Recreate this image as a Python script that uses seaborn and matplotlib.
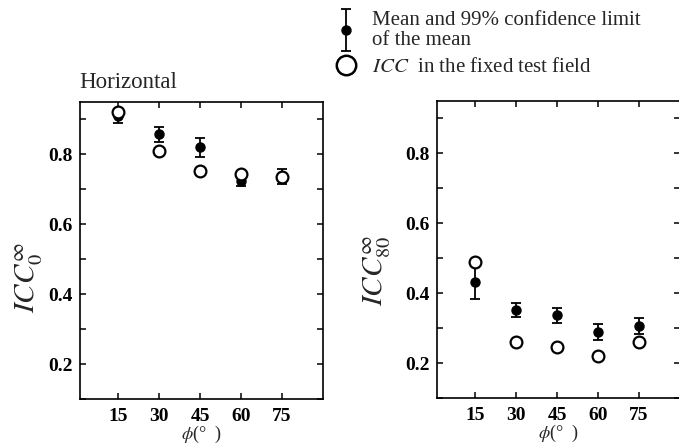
import numpy as np
import pandas as pd
import matplotlib
matplotlib.use('Agg')
import matplotlib.pyplot as plt
import seaborn as sns
from matplotlib.lines import Line2D
from matplotlib.container import ErrorbarContainer
from matplotlib.legend_handler import HandlerErrorbar

# ---- data ----
phi = [15, 30, 45, 60, 75]
h_mean = [0.910, 0.857, 0.820, 0.725, 0.737]
h_err = [0.019, 0.021, 0.027, 0.014, 0.022]
h_icc = [0.921, 0.809, 0.752, 0.743, 0.736]
v_mean = [0.433, 0.351, 0.337, 0.290, 0.305]
v_err = [0.049, 0.020, 0.021, 0.023, 0.023]
v_icc = [0.490, 0.261, 0.245, 0.219, 0.261]
xticks = [15, 30, 45, 60, 75]
ymajor = [0.2, 0.4, 0.6, 0.8]
yminor = [0.1, 0.3, 0.5, 0.7, 0.9]

sns.set_style('ticks')
plt.rcParams.update({
    'font.family': ['Liberation Serif', 'DejaVu Serif'],
    'mathtext.fontset': 'stix',
    'xtick.direction': 'in', 'ytick.direction': 'in',
    'xtick.top': True, 'ytick.right': True,
    'xtick.minor.top': True, 'ytick.minor.right': True,
    'axes.edgecolor': 'black', 'axes.linewidth': 1.2,
    'xtick.color': 'black', 'ytick.color': 'black',
    'axes.facecolor': 'white', 'figure.facecolor': 'white',
})

W, H = 679, 445
fig = plt.figure(figsize=(W / 100, H / 100), dpi=100)
axL = fig.add_axes([80 / W, 46 / H, 243 / W, 297 / H])
axR = fig.add_axes([437 / W, 47 / H, 243 / W, 297 / H])


def panel(ax, mean, err, icc, ylabel, ly):
    df = pd.DataFrame({'phi': phi, 'mean': mean, 'icc': icc})
    eb = ax.errorbar(df['phi'], df['mean'], yerr=err, fmt='o', color='black',
                     ms=6.5, elinewidth=1.3, capsize=3.8, capthick=1.3, zorder=3)
    sns.scatterplot(data=df, x='phi', y='icc', ax=ax, color='white',
                    edgecolor='black', linewidth=1.6, s=72, zorder=5,
                    legend=False)
    ax.set_xlim(1, 90)
    ax.set_ylim(0.1, 0.95)
    ax.set_xticks(xticks)
    ax.set_xticklabels([str(t) for t in xticks])
    ax.set_yticks(ymajor)
    ax.set_yticklabels([f'{t:.1f}' for t in ymajor])
    ax.set_yticks(yminor, minor=True)
    ax.tick_params(axis='both', which='both', length=4, width=1.1)
    ax.tick_params(axis='x', pad=6.5)
    ax.tick_params(axis='y', pad=5.5)
    for lab in ax.get_xticklabels() + ax.get_yticklabels():
        lab.set_fontsize(14)
        lab.set_fontweight('bold')
    ax.set_xlabel(r'$\phi$(°  )', fontsize=13, labelpad=-1)
    ax.set_ylabel(ylabel, fontsize=21)
    ax.yaxis.set_label_coords(ly[0], ly[1])
    for s in ax.spines.values():
        s.set_visible(True)
        s.set_color('black')
    return eb


eb = panel(axL, h_mean, h_err, h_icc, r'$\mathit{ICC}_0^{\infty}$', (-0.145, 0.41))
panel(axR, v_mean, v_err, v_icc, r'$\mathit{ICC}_{80}^{\infty}$', (-0.18, 0.43))

fig.text(79 / W, 1 - 83 / H, 'Horizontal', fontsize=16.5, ha='left', va='center')

circ = Line2D([], [], marker='o', ls='none', mfc='white', mec='black',
              ms=14, mew=1.8)
leg = fig.legend(handles=[eb, circ],
                 labels=['Mean and 99% confidence limit\nof the mean',
                         r'$\mathit{ICC}$  in the fixed test field'],
                 loc='upper left', bbox_to_anchor=(336 / W, 1 - 11 / H),
                 frameon=False, fontsize=15, handlelength=1.0,
                 handletextpad=0.75, borderpad=0, borderaxespad=0,
                 labelspacing=0.35,
                 handler_map={ErrorbarContainer: HandlerErrorbar(yerr_size=1.0)})
leg.get_texts()[0].set_linespacing(1.07)

fig.savefig('out.png', dpi=100)
